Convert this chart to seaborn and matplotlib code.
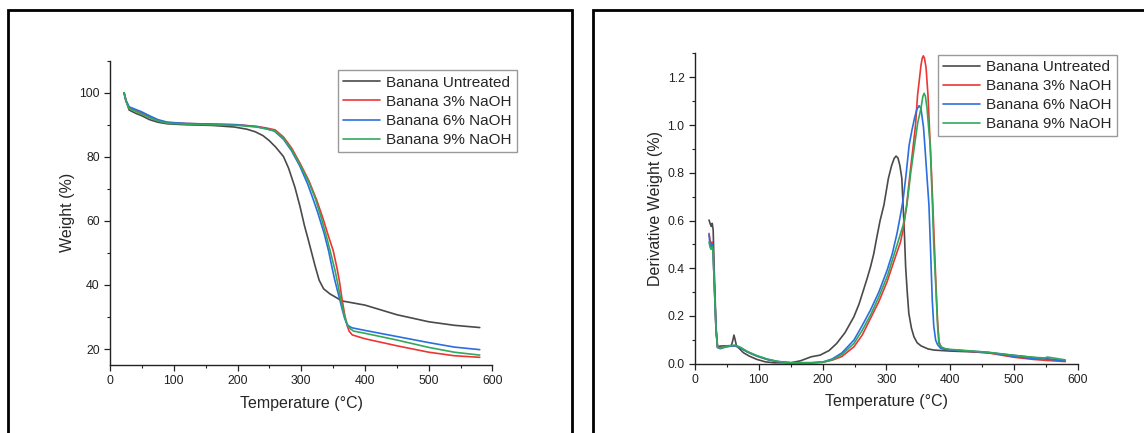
import pandas as pd
import seaborn as sns
import matplotlib.pyplot as plt
from matplotlib.patches import Rectangle
from matplotlib.ticker import MultipleLocator

samples = ["Banana Untreated", "Banana 3% NaOH", "Banana 6% NaOH", "Banana 9% NaOH"]
colors = ["#4a4a4a", "#ee3535", "#2a6ee0", "#32a85c"]

# TGA curves (weight %)
tga_untreated_t = [22, 25, 30, 40, 50, 62, 75, 90, 120, 160, 195, 215, 228, 240, 250, 260, 272, 280, 290,
                   298, 305, 311, 317, 322, 328, 335, 345, 364, 400, 450, 500, 540, 580]
tga_untreated_w = [100, 97.5, 94.6, 93.6, 92.8, 91.6, 90.8, 90.3, 90.0, 89.8, 89.3, 88.6, 87.8, 86.6,
                   85.0, 83.0, 80.1, 76.5, 70.5, 64.5, 58.5, 54.1, 49.5, 45.7, 41.5, 38.8, 37.2, 35.0,
                   33.7, 30.7, 28.5, 27.4, 26.7]
tga_3_t = [22, 25, 30, 40, 50, 62, 75, 90, 120, 160, 200, 230, 245, 259, 272, 285, 298, 312, 324, 334,
           343, 350, 356, 360, 364, 368, 372, 375, 380, 390, 400, 450, 500, 540, 580]
tga_3_w = [100, 97.5, 95.3, 94.4, 93.6, 92.4, 91.4, 90.7, 90.4, 90.2, 90.0, 89.5, 89.0, 88.4, 86.2,
           82.7, 78.0, 72.5, 66.6, 60.8, 55.0, 50.8, 45.3, 41.0, 35.5, 30.8, 27.3, 25.6, 24.4, 23.8,
           23.2, 21.0, 19.0, 17.9, 17.4]
tga_6_t = [22, 25, 30, 40, 50, 62, 75, 90, 120, 160, 200, 230, 245, 258, 272, 285, 298, 310, 317, 326,
           336, 343, 348, 352, 356, 360, 364, 368, 372, 376, 380, 400, 450, 500, 540, 580]
tga_6_w = [100, 97.6, 95.6, 94.8, 94.0, 92.8, 91.6, 90.8, 90.4, 90.2, 90.0, 89.4, 88.8, 88.0, 85.5,
           81.8, 77.0, 71.5, 67.7, 62.5, 56.0, 50.5, 45.7, 42.0, 38.8, 35.8, 32.5, 29.6, 27.6, 27.0,
           26.6, 25.8, 23.9, 22.0, 20.6, 19.8]
tga_9_t = [22, 25, 30, 40, 50, 62, 75, 90, 120, 160, 200, 230, 245, 259, 272, 285, 298, 312, 322, 332,
           341, 348, 353, 357, 361, 365, 369, 373, 377, 382, 400, 450, 500, 540, 580]
tga_9_w = [100, 97.4, 95.0, 94.2, 93.3, 92.2, 91.2, 90.5, 90.2, 90.0, 89.8, 89.3, 88.7, 88.1, 85.8,
           82.2, 77.5, 72.0, 67.0, 60.5, 54.0, 48.5, 44.5, 40.6, 36.5, 32.5, 29.5, 27.3, 26.3, 25.6,
           24.9, 22.8, 20.5, 19.0, 18.1]

# DTG curves (derivative weight %/°C)
dtg_untreated_t = [22, 24, 25.5, 27, 28.5, 30, 33, 35.3, 40, 50, 57, 59.5, 61, 62.5, 65, 70, 76, 85, 97,
                   110, 124, 150, 165, 182, 196, 210, 222, 235, 249, 257, 264, 270, 275, 280, 285, 290,
                   296, 303, 308, 312, 315, 318, 321, 324, 326, 328, 330, 332.5, 335, 339, 343, 348,
                   354, 365, 375, 400, 430, 460, 500, 530, 555, 580]
dtg_untreated_d = [0.602, 0.585, 0.575, 0.588, 0.56, 0.406, 0.155, 0.071, 0.074, 0.075, 0.076, 0.10,
                   0.12, 0.105, 0.075, 0.062, 0.046, 0.032, 0.018, 0.008, 0.004, 0.004, 0.012, 0.029,
                   0.036, 0.055, 0.085, 0.13, 0.197, 0.25, 0.309, 0.36, 0.406, 0.46, 0.532, 0.60,
                   0.665, 0.777, 0.83, 0.86, 0.870, 0.862, 0.83, 0.777, 0.665, 0.55, 0.406, 0.30,
                   0.211, 0.15, 0.113, 0.088, 0.075, 0.062, 0.057, 0.053, 0.050, 0.046, 0.035, 0.026,
                   0.019, 0.011]
dtg_3_t = [22, 23.5, 25, 27, 28.5, 30, 33, 35.3, 39.5, 48, 55, 62, 66, 72, 81.6, 90, 97, 113, 129, 150,
           182, 200, 215, 230, 249, 262, 275, 288, 301, 313, 322, 327, 331.6, 337, 342, 345.5, 348.7,
           351.5, 354, 356, 357.7, 359.5, 362, 365, 368.5, 370.5, 372.6, 375, 377.5, 380, 382.5, 386,
           392, 400, 430, 460, 500, 530, 550, 580]
dtg_3_d = [0.546, 0.52, 0.50, 0.51, 0.47, 0.35, 0.14, 0.07, 0.065, 0.072, 0.074, 0.075, 0.072, 0.065,
           0.05, 0.04, 0.032, 0.018, 0.009, 0.004, 0.004, 0.006, 0.015, 0.03, 0.071, 0.12, 0.19, 0.26,
           0.344, 0.44, 0.51, 0.574, 0.665, 0.80, 0.916, 1.0, 1.126, 1.19, 1.25, 1.28, 1.290, 1.28,
           1.24, 1.126, 0.916, 0.80, 0.665, 0.50, 0.33, 0.18, 0.09, 0.068, 0.062, 0.058, 0.052, 0.045,
           0.027, 0.018, 0.014, 0.009]
dtg_6_t = [22, 23.5, 25, 27, 28.5, 30, 33, 35.3, 39.5, 48, 55, 62, 66, 72, 81.6, 90, 97, 113, 129, 150,
           182, 200, 215, 230, 249, 262, 275, 288, 301, 309, 316.5, 321, 326, 331, 335.5, 340, 344,
           347.5, 351, 354, 356, 358, 360, 363, 366.5, 369, 371.7, 374, 377, 380, 385, 392, 400, 430,
           460, 500, 530, 550, 580]
dtg_6_d = [0.54, 0.50, 0.49, 0.50, 0.46, 0.35, 0.14, 0.068, 0.063, 0.07, 0.073, 0.075, 0.072, 0.065,
           0.05, 0.04, 0.032, 0.018, 0.009, 0.004, 0.004, 0.007, 0.02, 0.045, 0.099, 0.16, 0.225, 0.30,
           0.392, 0.46, 0.546, 0.61, 0.686, 0.80, 0.916, 0.98, 1.03, 1.065, 1.081, 1.07, 1.03, 0.99,
           0.916, 0.80, 0.665, 0.48, 0.267, 0.16, 0.099, 0.08, 0.064, 0.06, 0.058, 0.053, 0.047, 0.03,
           0.022, 0.02, 0.011]
dtg_9_t = [22, 23.5, 25, 27, 28.5, 30, 33, 35.3, 39.5, 48, 55, 62, 66, 72, 81.6, 90, 97, 113, 129, 150,
           182, 200, 215, 230, 249, 262, 275, 288, 301, 316.5, 326, 332, 338, 344, 349, 354, 357, 359,
           361, 363.5, 366, 368.5, 372, 374, 377, 380, 382, 386, 392, 400, 430, 460, 500, 530, 548,
           552, 580]
dtg_9_d = [0.51, 0.49, 0.48, 0.49, 0.46, 0.35, 0.14, 0.068, 0.065, 0.072, 0.075, 0.078, 0.075, 0.068,
           0.052, 0.042, 0.034, 0.02, 0.01, 0.004, 0.004, 0.006, 0.017, 0.038, 0.085, 0.14, 0.204, 0.28,
           0.365, 0.497, 0.58, 0.665, 0.80, 0.916, 1.01, 1.07, 1.12, 1.133, 1.12, 1.07, 0.99, 0.916,
           0.665, 0.50, 0.337, 0.16, 0.085, 0.07, 0.063, 0.06, 0.054, 0.048, 0.035, 0.027, 0.024,
           0.028, 0.016]


def long_df(ts, vs, col):
    parts = []
    for name, t, v in zip(samples, ts, vs):
        parts.append(pd.DataFrame({"Temperature": t, col: v, "Sample": name}))
    return pd.concat(parts, ignore_index=True)


tga = long_df([tga_untreated_t, tga_3_t, tga_6_t, tga_9_t],
              [tga_untreated_w, tga_3_w, tga_6_w, tga_9_w], "Weight")
dtg = long_df([dtg_untreated_t, dtg_3_t, dtg_6_t, dtg_9_t],
              [dtg_untreated_d, dtg_3_d, dtg_6_d, dtg_9_d], "Deriv")

sns.set_style("ticks")
plt.rcParams["font.family"] = ["Liberation Sans", "DejaVu Sans"]

fig = plt.figure(figsize=(11.44, 4.33), dpi=100)
ax1 = fig.add_axes([0.0962, 0.157, 0.3343, 0.7028])
ax2 = fig.add_axes([0.6075, 0.160, 0.3348, 0.7166])

pal = dict(zip(samples, colors))
sns.lineplot(data=tga, x="Temperature", y="Weight", hue="Sample", hue_order=samples, palette=pal,
             estimator=None, sort=False, lw=1.2, ax=ax1)
sns.lineplot(data=dtg, x="Temperature", y="Deriv", hue="Sample", hue_order=samples, palette=pal,
             estimator=None, sort=False, lw=1.2, ax=ax2)

ax1.set_xlim(0, 600)
ax1.set_ylim(15, 110)
ax1.yaxis.set_major_locator(MultipleLocator(20))
ax1.yaxis.set_minor_locator(MultipleLocator(10))
ax1.set_ylabel("Weight (%)", fontsize=11.5, labelpad=3)

ax2.set_xlim(0, 600)
ax2.set_ylim(0, 1.3)
ax2.yaxis.set_major_locator(MultipleLocator(0.2))
ax2.yaxis.set_minor_locator(MultipleLocator(0.1))
ax2.set_ylabel("Derivative Weight (%)", fontsize=11.5, labelpad=3)

legend_pos = [(0.596, 0.968), (0.634, 0.996)]
for ax, pos in zip([ax1, ax2], legend_pos):
    ax.xaxis.set_major_locator(MultipleLocator(100))
    ax.xaxis.set_minor_locator(MultipleLocator(50))
    ax.set_xlabel("Temperature (°C)", fontsize=11.5, labelpad=6)
    for s in ["top", "right"]:
        ax.spines[s].set_visible(False)
    for s in ["left", "bottom"]:
        ax.spines[s].set_linewidth(1.0)
        ax.spines[s].set_color("#222222")
    ax.tick_params(which="major", direction="out", length=4, width=0.9, labelsize=8.8,
                   colors="#222222")
    ax.tick_params(which="minor", direction="out", length=2.5, width=0.8, colors="#222222")
    ax.patch.set_alpha(0)
    leg = ax.legend(loc="upper left", bbox_to_anchor=pos, borderaxespad=0, fontsize=11,
                    frameon=True, fancybox=False, framealpha=1, edgecolor="#9a9a9a",
                    handlelength=2.4, handletextpad=0.4, borderpad=0.35, labelspacing=0.33)
    leg.get_frame().set_linewidth(1.0)

fig.add_artist(Rectangle((0.007, -0.05), 0.493, 1.027, transform=fig.transFigure,
                         fill=False, lw=2, ec="black"))
fig.add_artist(Rectangle((0.518, -0.05), 0.6, 1.027, transform=fig.transFigure,
                         fill=False, lw=2, ec="black"))

fig.savefig("out.png", dpi=100)
